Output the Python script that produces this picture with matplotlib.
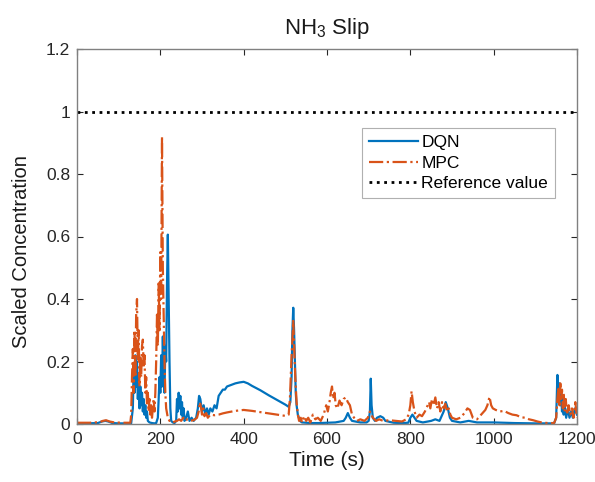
import matplotlib
matplotlib.use("Agg")
import matplotlib.pyplot as plt
import numpy as np

plt.rcParams['font.family'] = ['Liberation Sans', 'DejaVu Sans']
plt.rcParams['mathtext.fontset'] = 'custom'
plt.rcParams['mathtext.rm'] = 'Liberation Sans'
plt.rcParams['mathtext.default'] = 'regular'

# ---------------- data ----------------
dqn_t = [0, 20, 50, 60, 68, 75, 85, 100, 130,
         134, 136, 138, 140, 142, 144, 146, 148, 150, 152, 154, 156, 158, 160, 162, 164, 166, 168, 170,
         174, 180, 186, 190, 194, 196, 198, 200, 202, 204, 206, 208, 210, 212, 214, 216, 218, 220, 222,
         224, 226, 230, 234, 238, 240, 242, 244, 246, 248, 250, 252, 254, 256, 258, 262, 266, 270, 275,
         280, 286, 290, 293, 296, 300, 304, 308, 312, 316, 320, 325, 330, 335, 340, 345, 350, 355, 360,
         370, 380, 390, 400, 410, 420, 440, 460, 480, 500, 508, 512, 515, 517, 519, 521, 523, 525, 527,
         530, 535, 540, 560, 580, 600, 620, 640, 645, 650, 655, 660, 680, 695, 700, 703, 705, 707, 710,
         715, 720, 728, 735, 740, 760, 780, 795, 800, 805, 810, 815, 830, 850, 860, 870, 880, 885, 890,
         895, 900, 920, 940, 960, 1000, 1050, 1100, 1145, 1150, 1153, 1156, 1158, 1160, 1162, 1164, 1166,
         1168, 1170, 1174, 1178, 1182, 1186, 1190, 1195, 1200]
dqn_v = [0.002, 0.002, 0.003, 0.008, 0.010, 0.008, 0.003, 0.002, 0.002,
         0.05, 0.18, 0.10, 0.22, 0.12, 0.20, 0.08, 0.15, 0.05, 0.12, 0.06, 0.10, 0.04, 0.08, 0.03, 0.06, 0.02, 0.04, 0.01,
         0.005, 0.003, 0.002, 0.003, 0.02, 0.08, 0.15, 0.10, 0.22, 0.12, 0.28, 0.15, 0.10, 0.25, 0.20, 0.45, 0.606, 0.40, 0.20,
         0.05, 0.01, 0.005, 0.003, 0.01, 0.08, 0.04, 0.10, 0.05, 0.09, 0.03, 0.07, 0.02, 0.05, 0.01, 0.02, 0.04, 0.01, 0.02,
         0.01, 0.02, 0.05, 0.09, 0.08, 0.04, 0.06, 0.03, 0.05, 0.03, 0.05, 0.04, 0.06, 0.05, 0.09, 0.10, 0.11, 0.11, 0.12,
         0.125, 0.13, 0.133, 0.135, 0.13, 0.122, 0.108, 0.092, 0.077, 0.062, 0.055, 0.07, 0.15, 0.30, 0.372, 0.30, 0.20, 0.10, 0.06,
         0.03, 0.01, 0.005, 0.003, 0.003, 0.004, 0.005, 0.01, 0.02, 0.035, 0.02, 0.01, 0.005, 0.005, 0.01, 0.04, 0.145, 0.06, 0.02,
         0.01, 0.02, 0.025, 0.02, 0.01, 0.004, 0.003, 0.004, 0.02, 0.03, 0.02, 0.01, 0.005, 0.01, 0.015, 0.01, 0.04, 0.07, 0.05,
         0.02, 0.01, 0.005, 0.01, 0.005, 0.005, 0.003, 0.002, 0.002, 0.02, 0.157, 0.10, 0.13, 0.06, 0.10, 0.04, 0.08,
         0.03, 0.06, 0.02, 0.05, 0.02, 0.04, 0.02, 0.05, 0.03]

mpc_t = [0, 30, 55, 62, 70, 78, 90, 110, 128, 130, 132, 134, 136, 138, 140, 142, 144, 146, 148, 150,
         152, 154, 156, 158, 160, 162, 164, 166, 168, 170, 172, 174, 176, 178, 180, 182, 184, 186, 188,
         190, 192, 194, 196, 198, 200, 202, 204, 206, 208, 210, 212, 214, 218, 222, 226, 230, 235, 240,
         245, 250, 255, 260, 265, 270, 280, 288, 292, 295, 298, 300, 303, 306, 310, 314, 320, 330, 340,
         350, 360, 380, 400, 420, 440, 460, 480, 500, 508, 511, 513, 515, 517, 519, 521, 523, 525, 527,
         530, 533, 537, 540, 545, 550, 555, 560, 566, 572, 578, 585, 592, 598, 602, 606, 609, 612, 615,
         618, 621, 625, 630, 635, 640, 645, 650, 655, 660, 665, 672, 680, 690, 698, 703, 706, 710, 718,
         725, 735, 750, 765, 780, 790, 796, 800, 803, 806, 810, 815, 822, 828, 835, 840, 845, 848, 852,
         856, 860, 864, 868, 872, 876, 880, 884, 888, 892, 896, 900, 910, 920, 930, 937, 943, 950, 960,
         970, 980, 985, 990, 994, 998, 1005, 1015, 1025, 1035, 1045, 1055, 1065, 1075, 1085, 1095, 1105,
         1115, 1130, 1145, 1150, 1153, 1156, 1158, 1160, 1162, 1164, 1166, 1168, 1170, 1173, 1176, 1180,
         1184, 1188, 1192, 1196, 1200]
mpc_v = [0.004, 0.004, 0.006, 0.01, 0.012, 0.008, 0.005, 0.004, 0.004, 0.03, 0.15, 0.24, 0.10, 0.30, 0.15, 0.35, 0.40, 0.20, 0.30, 0.12,
         0.22, 0.15, 0.25, 0.27, 0.18, 0.22, 0.10, 0.15, 0.06, 0.10, 0.04, 0.08, 0.03, 0.06, 0.02, 0.05, 0.08, 0.04, 0.10,
         0.20, 0.35, 0.25, 0.45, 0.30, 0.55, 0.40, 0.92, 0.50, 0.35, 0.20, 0.10, 0.05, 0.02, 0.01, 0.01, 0.005, 0.008, 0.01,
         0.015, 0.01, 0.02, 0.01, 0.015, 0.01, 0.012, 0.02, 0.04, 0.07, 0.05, 0.03, 0.05, 0.025, 0.035, 0.02, 0.03, 0.028, 0.03,
         0.034, 0.037, 0.042, 0.045, 0.042, 0.038, 0.034, 0.03, 0.026, 0.03, 0.08, 0.15, 0.22, 0.27, 0.33, 0.25, 0.18, 0.12, 0.07,
         0.03, 0.01, 0.02, 0.005, 0.025, 0.01, 0.02, 0.005, 0.03, 0.015, 0.02, 0.01, 0.03, 0.06, 0.04, 0.07, 0.10, 0.12, 0.08,
         0.10, 0.06, 0.05, 0.075, 0.06, 0.08, 0.085, 0.07, 0.06, 0.03, 0.02, 0.01, 0.015, 0.01, 0.02, 0.04, 0.03, 0.02, 0.01,
         0.015, 0.01, 0.012, 0.01, 0.008, 0.015, 0.03, 0.06, 0.105, 0.07, 0.04, 0.02, 0.03, 0.025, 0.04, 0.055, 0.07, 0.05, 0.08,
         0.06, 0.085, 0.05, 0.07, 0.04, 0.07, 0.05, 0.065, 0.04, 0.05, 0.03, 0.02, 0.015, 0.02, 0.035, 0.05, 0.045, 0.02, 0.015,
         0.03, 0.045, 0.06, 0.087, 0.06, 0.05, 0.045, 0.04, 0.042, 0.035, 0.03, 0.028, 0.022, 0.02, 0.015, 0.012, 0.008,
         0.005, 0.003, 0.003, 0.02, 0.08, 0.12, 0.06, 0.13, 0.08, 0.11, 0.05, 0.10, 0.04, 0.08, 0.03, 0.06,
         0.03, 0.05, 0.02, 0.07, 0.02]

ref_t = [0, 1200]
ref_v = [1.0, 1.0]

x_ticks = [0, 200, 400, 600, 800, 1000, 1200]
y_ticks = [0, 0.2, 0.4, 0.6, 0.8, 1.0, 1.2]
y_tick_labels = ['0', '0.2', '0.4', '0.6', '0.8', '1', '1.2']

# ---------------- figure ----------------
fig = plt.figure(figsize=(5.95, 4.82), dpi=100)
ax = fig.add_axes([77/595, 58/482, 500/595, 375/482])

ax.plot(dqn_t, dqn_v, color='#0072BD', lw=1.6, label='DQN')
ax.plot(mpc_t, mpc_v, color='#D95319', lw=1.6, ls='-.', label='MPC')
ax.plot(ref_t, ref_v, color='black', lw=2.0, ls=':', label='Reference value')

ax.set_xlim(0, 1200)
ax.set_ylim(0, 1.2)
ax.set_xticks(x_ticks)
ax.set_yticks(y_ticks)
ax.set_yticklabels(y_tick_labels)
ax.tick_params(direction='in', top=True, right=True, length=4, width=0.8,
               labelsize=12.5, colors='#262626', pad=5)
ax.tick_params(axis='x', pad=6)
for sp in ax.spines.values():
    sp.set_color('#808080')
    sp.set_linewidth(1.0)

ax.set_xlabel('Time (s)', fontsize=15, color='#1a1a1a', labelpad=3)
ax.set_ylabel('Scaled Concentration', fontsize=14.5, color='#1a1a1a')
ax.yaxis.set_label_coords(-0.093, 0.46)
ax.set_title('NH$_3$ Slip', fontsize=16, color='#1a1a1a', pad=11)

leg = ax.legend(loc='upper right', bbox_to_anchor=(0.956, 0.789), fontsize=12.5,
                frameon=True, fancybox=False, edgecolor='#b0b0b0', framealpha=1,
                handlelength=2.8, borderaxespad=0, borderpad=0.4, labelspacing=0.3,
                handletextpad=0.2)
leg.get_frame().set_linewidth(0.8)

fig.savefig('out.png', dpi=100)
